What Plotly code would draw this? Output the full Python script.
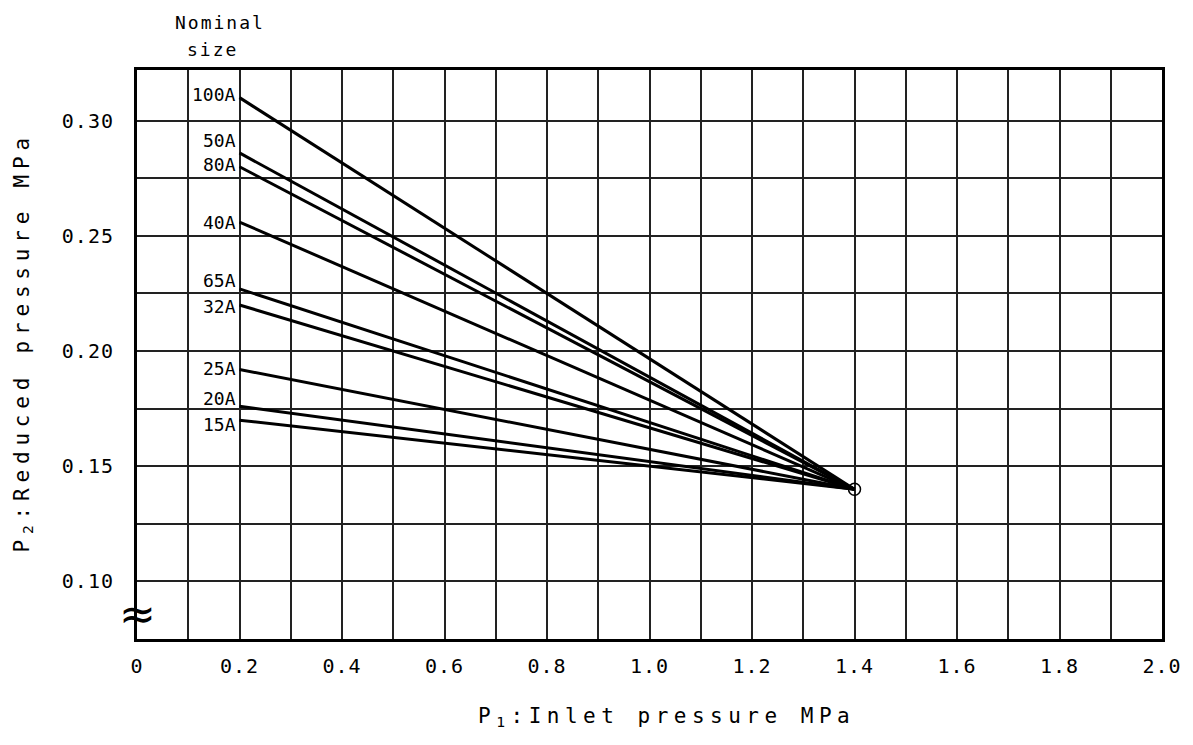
import plotly.graph_objects as go

sizes = ["100A", "50A", "80A", "40A", "65A", "32A", "25A", "20A", "15A"]
p1_start = 0.2
p1_end = 1.4
p2_start = [0.310, 0.286, 0.280, 0.256, 0.227, 0.220, 0.192, 0.176, 0.170]
p2_end = 0.14

x_tickvals = [0, 0.2, 0.4, 0.6, 0.8, 1.0, 1.2, 1.4, 1.6, 1.8, 2.0]
x_ticktext = ["0", "0.2", "0.4", "0.6", "0.8", "1.0", "1.2", "1.4", "1.6", "1.8", "2.0"]
y_tickvals = [0.10, 0.15, 0.20, 0.25, 0.30]
y_ticktext = ["0.10", "0.15", "0.20", "0.25", "0.30"]

x_title = "P<sub>1</sub>:Inlet pressure MPa"
y_title = "P<sub>2</sub>:Reduced pressure MPa"
legend_title = ["Nominal", "size"]

# label vertical pixel offsets (style only)
label_shift = [3, 12, 2, 0, 8, -2, 1, 8, -4]

FONT = "DejaVu Sans Mono"


def spaced(t, px):
    return "<span style='letter-spacing:%spx'>%s</span>" % (px, t)


fig = go.Figure()
for name, v in zip(sizes, p2_start):
    fig.add_trace(go.Scatter(x=[p1_start, p1_end], y=[v, p2_end], mode="lines",
                             line=dict(color="black", width=3), name=name,
                             showlegend=False, hoverinfo="skip"))

fig.add_trace(go.Scatter(x=[p1_end], y=[p2_end], mode="markers",
                         marker=dict(symbol="circle-open", size=12, color="black",
                                     line=dict(width=1.5, color="black")),
                         showlegend=False, hoverinfo="skip"))

for name, v, s in zip(sizes, p2_start, label_shift):
    fig.add_annotation(x=p1_start, y=v, text=name, showarrow=False,
                       xanchor="right", yanchor="middle", xshift=-2, yshift=s,
                       font=dict(family=FONT, size=18, color="black"))

fig.add_annotation(x=0.161, y=1.0, xref="x", yref="paper",
                   text=spaced(legend_title[0], 2),
                   showarrow=False, xanchor="center", yanchor="middle", yshift=48,
                   font=dict(family=FONT, size=18, color="black"))
fig.add_annotation(x=0.148, y=1.0, xref="x", yref="paper",
                   text=spaced(legend_title[1], 2),
                   showarrow=False, xanchor="center", yanchor="middle", yshift=21,
                   font=dict(family=FONT, size=18, color="black"))

fig.add_annotation(x=0, y=0.0862, text="≈", showarrow=False, xanchor="center",
                   yanchor="middle", font=dict(family="DejaVu Sans", size=44, color="black"))

# axis titles
fig.add_annotation(x=0.5, y=0, xref="paper", yref="paper", text=spaced(x_title, 5.5),
                   showarrow=False, xanchor="center", yanchor="middle", yshift=-78, xshift=17,
                   font=dict(family=FONT, size=21, color="black"))
fig.add_annotation(x=0, y=0.5, xref="paper", yref="paper", text=spaced(y_title, 5.8),
                   showarrow=False, xanchor="center", yanchor="middle", xshift=-115, yshift=12,
                   textangle=-90, font=dict(family=FONT, size=21, color="black"))

grid_col = "#222222"
fig.update_layout(
    width=1193, height=745, autosize=False,
    margin=dict(l=137, r=31, t=70, b=106),
    paper_bgcolor="white", plot_bgcolor="white",
    font=dict(family=FONT, color="black"),
    xaxis=dict(range=[0, 2.0], tickvals=x_tickvals,
               ticktext=[spaced(t, 1) for t in x_ticktext],
               showgrid=True, gridcolor=grid_col, gridwidth=1.5,
               minor=dict(tickvals=[0.1 * i for i in range(1, 20)], showgrid=True,
                          gridcolor=grid_col, gridwidth=1.5),
               showline=True, linecolor="black", linewidth=3, mirror=True,
               zeroline=False, ticks="", ticklabelstandoff=7,
               tickfont=dict(family=FONT, size=20)),
    yaxis=dict(range=[0.075, 0.322], tickvals=y_tickvals,
               ticktext=[spaced(t, 1) for t in y_ticktext],
               showgrid=True, gridcolor=grid_col, gridwidth=1.5,
               minor=dict(tickvals=[0.1 + 0.025 * i for i in range(-1, 10)], showgrid=True,
                          gridcolor=grid_col, gridwidth=1.5),
               showline=True, linecolor="black", linewidth=3, mirror=True,
               zeroline=False, ticks="", ticklabelstandoff=16,
               tickfont=dict(family=FONT, size=20)),
)

fig.write_html("out.html", config={"displayModeBar": False},
               post_script="document.body.style.margin='0';document.body.style.overflow='hidden';")
